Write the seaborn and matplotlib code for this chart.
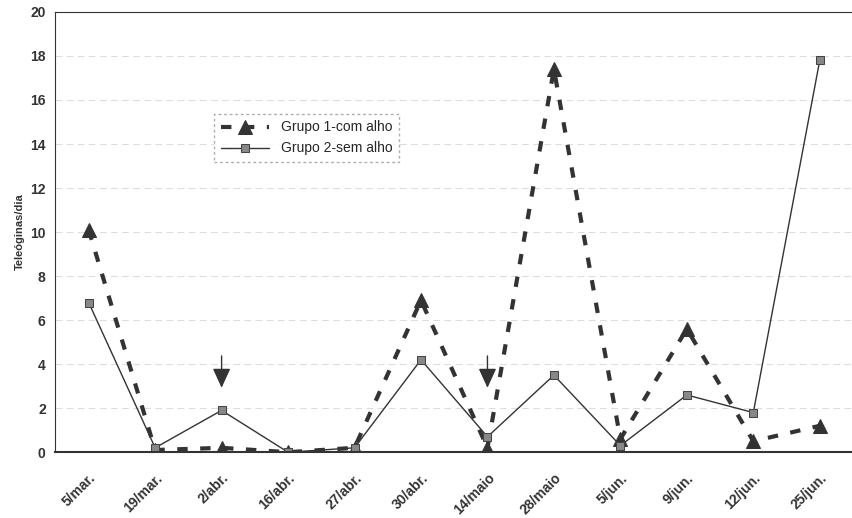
import numpy as np
import pandas as pd
import seaborn as sns
import matplotlib.pyplot as plt

datas = ["5/mar.", "19/mar.", "2/abr.", "16/abr.", "27/abr.", "30/abr.",
         "14/maio", "28/maio", "5/jun.", "9/jun.", "12/jun.", "25/jun."]
grupo1 = [10.1, 0.1, 0.2, 0.0, 0.2, 6.9, 0.2, 17.4, 0.6, 5.6, 0.5, 1.2]
grupo2 = [6.8, 0.2, 1.9, 0.0, 0.2, 4.2, 0.7, 3.5, 0.3, 2.6, 1.8, 17.8]
setas = ["2/abr.", "14/maio"]   # datas marcadas com seta

df = pd.DataFrame({"data": datas, "Grupo 1-com alho": grupo1, "Grupo 2-sem alho": grupo2})
x = np.arange(len(datas))

sns.set_style("white")
plt.rcParams['font.family'] = ['Liberation Sans', 'DejaVu Sans']

fig = plt.figure(figsize=(8.53, 5.18), dpi=100)
ax = fig.add_axes([0.065, 0.127, 0.935, 0.85])

sns.lineplot(x=x, y=df["Grupo 1-com alho"], ax=ax, color="#333333", linewidth=3,
             marker="^", markersize=10, markeredgecolor="#333333",
             label="Grupo 1-com alho")
ax.lines[-1].set_dashes([2.5, 3])
sns.lineplot(x=x, y=df["Grupo 2-sem alho"], ax=ax, color="#333333", linewidth=1,
             marker="s", markersize=6, markerfacecolor="#888888",
             markeredgecolor="#444444", label="Grupo 2-sem alho")

for s in setas:
    i = datas.index(s)
    ax.annotate("", xy=(i, 2.8), xytext=(i, 4.5),
                arrowprops=dict(arrowstyle="-|>,head_length=1.2,head_width=0.55",
                                color="#333333", lw=1))

ax.set_xlim(-0.5, len(datas) - 0.5)
ax.set_ylim(0, 20)
ax.set_yticks(range(0, 21, 2))
ax.set_xticks(x)
ax.set_xticklabels(datas, rotation=45, ha="right", rotation_mode="anchor",
                   fontsize=10, fontweight="bold", color="#333333")
ax.tick_params(axis="y", labelsize=10, labelcolor="#333333")
for t in ax.get_yticklabels():
    t.set_fontweight("bold")
ax.tick_params(axis="x", pad=10)
ax.set_ylabel("Teleóginas/dia", fontsize=8, fontweight="bold", color="#333333")
ax.set_xlabel("")

ax.yaxis.grid(True, linestyle=(0, (6, 4)), color="#dddddd", linewidth=0.8)
for side in ["right"]:
    ax.spines[side].set_visible(False)
for side in ["left", "bottom", "top"]:
    ax.spines[side].set_color("#333333")
ax.spines["bottom"].set_linewidth(1.5)

leg = ax.legend(loc="upper left", bbox_to_anchor=(0.19, 0.785), fontsize=10,
                frameon=True, fancybox=False, edgecolor="#999999",
                handlelength=3.5, borderpad=0.5)
leg.get_frame().set_linestyle((0, (2, 2)))

fig.savefig("out.png", dpi=100)
